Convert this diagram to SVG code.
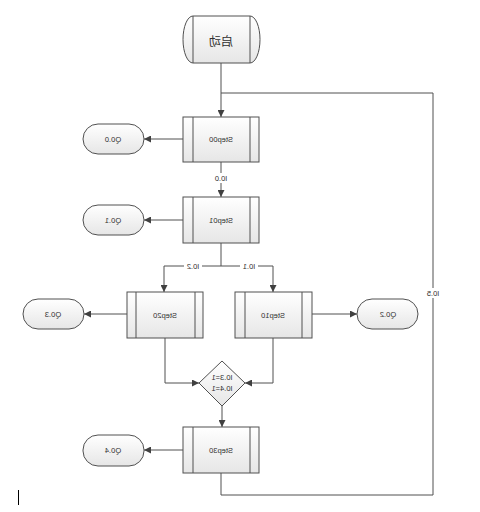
<svg xmlns="http://www.w3.org/2000/svg" width="480" height="512" viewBox="0 0 480 512">
<defs>
<linearGradient id="g" x1="0" y1="0" x2="0" y2="1">
<stop offset="0" stop-color="#ffffff"/>
<stop offset="1" stop-color="#e6e6e6"/>
</linearGradient>
<marker id="a" viewBox="0 0 10 10" refX="10" refY="5" markerWidth="7" markerHeight="7" orient="auto" markerUnits="userSpaceOnUse">
<path d="M0,0 L10,5 L0,10 Z" fill="#404040"/>
</marker>
<style>
.s{fill:url(#g);stroke:#505050;stroke-width:1}
.l{fill:none;stroke:#505050;stroke-width:1}
.c{fill:none;stroke:#505050;stroke-width:1;marker-end:url(#a)}
.t{font-family:"Liberation Sans",Arial,sans-serif;font-size:7.5px;fill:#303030;text-anchor:middle;dominant-baseline:central}
.z{font-family:"Noto Sans CJK SC","Noto Sans CJK JP",sans-serif;font-size:12px;fill:#303030;text-anchor:middle;dominant-baseline:central}
.bg{fill:#ffffff}
</style>
</defs>
<rect width="480" height="512" fill="#ffffff"/>
<g id="connectors">
<path class="c" d="M221,63 L221,117"/>
<path class="l" d="M221,495 L433,495 L433,93 L221,93"/>
<path class="l" d="M221,473 L221,495"/>
<path class="c" d="M183,139 L144,139"/>
<path class="c" d="M221,162 L221,197"/>
<path class="c" d="M183,220 L144,220"/>
<path class="l" d="M221,243 L221,266 M164,266 L273,266"/>
<path class="c" d="M164,266 L164,292"/>
<path class="c" d="M273,266 L273,292"/>
<path class="c" d="M127,314 L84,314"/>
<path class="c" d="M312,314 L357,314"/>
<path class="c" d="M165,338 L165,383 L199,383"/>
<path class="c" d="M273,338 L273,383 L245,383"/>
<path class="c" d="M222,406 L222,427"/>
<path class="c" d="M183,450 L144,450"/>
<rect class="bg" x="212" y="173" width="18" height="10"/>
<text class="t" transform="translate(221,178) scale(-1,1)">I0.0</text>
<rect class="bg" x="184" y="261" width="18" height="10"/>
<text class="t" transform="translate(193,266) scale(-1,1)">I0.2</text>
<rect class="bg" x="240" y="261" width="18" height="10"/>
<text class="t" transform="translate(249,266) scale(-1,1)">I0.1</text>
<rect class="bg" x="424" y="288" width="18" height="10"/>
<text class="t" transform="translate(433,293) scale(-1,1)">I0.5</text>
</g>
<g id="start">
<path class="s" d="M193,16 L250,16 A10,23.5 0 0 1 250,63 L193,63 A10,23.5 0 0 1 193,16 Z"/>
<path class="l" d="M193,16 L193,63 M250,16 L250,63"/>
<text class="z" transform="translate(221,40) scale(-1,1)">启动</text>
</g>
<g id="step00">
<rect class="s" x="183" y="117" width="76" height="45"/>
<path class="l" d="M193,117 L193,162 M250,117 L250,162"/>
<text class="t" transform="translate(221,139) scale(-1,1)">Step00</text>
</g>
<g id="q00">
<rect class="s" x="83" y="124" width="61" height="30" rx="15"/>
<text class="t" transform="translate(113,139) scale(-1,1)">Q0.0</text>
</g>
<g id="step01">
<rect class="s" x="183" y="197" width="76" height="46"/>
<path class="l" d="M193,197 L193,243 M250,197 L250,243"/>
<text class="t" transform="translate(221,220) scale(-1,1)">Step01</text>
</g>
<g id="q01">
<rect class="s" x="83" y="205" width="61" height="30" rx="15"/>
<text class="t" transform="translate(113,220) scale(-1,1)">Q0.1</text>
</g>
<g id="step20">
<rect class="s" x="127" y="292" width="76" height="46"/>
<path class="l" d="M136,292 L136,338 M195,292 L195,338"/>
<text class="t" transform="translate(165,315) scale(-1,1)">Step20</text>
</g>
<g id="q03">
<rect class="s" x="23" y="299" width="61" height="30" rx="15"/>
<text class="t" transform="translate(53,314) scale(-1,1)">Q0.3</text>
</g>
<g id="step10">
<rect class="s" x="235" y="292" width="77" height="46"/>
<path class="l" d="M245,292 L245,338 M302,292 L302,338"/>
<text class="t" transform="translate(273,315) scale(-1,1)">Step10</text>
</g>
<g id="q02">
<rect class="s" x="357" y="299" width="61" height="30" rx="15"/>
<text class="t" transform="translate(388,314) scale(-1,1)">Q0.2</text>
</g>
<g id="cond">
<path class="s" d="M222,361 L245,383 L222,406 L199,383 Z"/>
<text class="t" transform="translate(222,377) scale(-1,1)">I0.3=1</text>
<text class="t" transform="translate(222,388) scale(-1,1)">I0.4=1</text>
</g>
<g id="step30">
<rect class="s" x="183" y="427" width="76" height="46"/>
<path class="l" d="M193,427 L193,473 M250,427 L250,473"/>
<text class="t" transform="translate(221,450) scale(-1,1)">Step30</text>
</g>
<g id="q04">
<rect class="s" x="83" y="435" width="61" height="31" rx="15"/>
<text class="t" transform="translate(113,450) scale(-1,1)">Q0.4</text>
</g>
<line x1="18.5" y1="490" x2="18.5" y2="505" stroke="#000000" stroke-width="1"/>
</svg>
